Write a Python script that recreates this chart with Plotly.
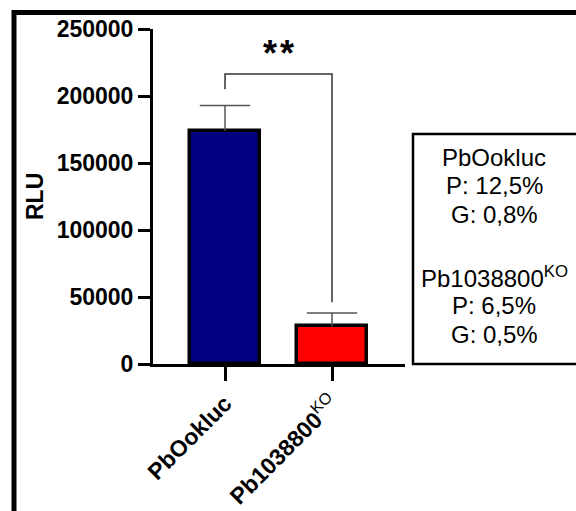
import plotly.graph_objects as go

# ---- data ----
categories = ["<b>PbOokluc</b>", "<b>Pb1038800</b><sup>KO</sup>"]
means = [174000, 28000]
errors_up = [19000, 10000]
bar_colors = ["#000080", "#FF0000"]
y_ticks = [0, 50000, 100000, 150000, 200000, 250000]
signif_text = "*\u200a*"
box_lines = ["PbOokluc", "P: 12,5%", "G: 0,8%", "", "Pb1038800<sup>KO</sup>", "P: 6,5%", "G: 0,5%"]

FONT = "Arial, 'Liberation Sans', Helvetica, sans-serif"
W, H = 576, 511
L, R, T, B = 153, 171, 29, 147
pw, ph = W - L - R, H - T - B

def px_x(p):  # pixel -> paper x
    return (p - L) / pw

def px_y(p):  # pixel -> paper y
    return (H - B - p) / ph

xpos = list(range(len(categories)))
tops = [m + e for m, e in zip(means, errors_up)]

fig = go.Figure()
fig.add_trace(go.Bar(
    x=xpos, y=means, width=0.654,
    marker=dict(color=bar_colors, line=dict(color="black", width=3.5)),
    error_y=dict(type="data", array=errors_up, arrayminus=[0, 0], symmetric=False,
                 color="#555555", thickness=1.5, width=0),
))
# error-bar caps
fig.add_trace(go.Scatter(
    x=xpos, y=tops, mode="markers", hoverinfo="skip",
    marker=dict(symbol="line-ew-open", size=36, color="#555555",
                line=dict(color="#555555", width=1.5)),
))

# significance bracket (data coords)
left_end = tops[0] + 12000
right_end = tops[1] + 8000
top = 216500
fig.add_shape(type="path", xref="x", yref="y",
              path=f"M {xpos[0]} {left_end} L {xpos[0]} {top} L {xpos[1]} {top} L {xpos[1]} {right_end}",
              line=dict(color="#333333", width=1.5))
fig.add_annotation(x=(xpos[0] + xpos[1]) / 2, y=top, yanchor="bottom", yshift=-2,
                   text=f"<b>{signif_text}</b>", showarrow=False,
                   font=dict(family=FONT, size=36, color="black"))

# y-axis title
fig.add_annotation(xref="paper", yref="paper", x=px_x(35), y=px_y(197),
                   xanchor="center", yanchor="middle",
                   text="<b>RLU</b>", textangle=-90, showarrow=False,
                   font=dict(family=FONT, size=23, color="black"))

# text box
fig.add_shape(type="rect", xref="paper", yref="paper",
              x0=px_x(413), x1=px_x(700), y0=px_y(364), y1=px_y(134),
              line=dict(color="black", width=2.5), fillcolor="rgba(0,0,0,0)")
for i, line in enumerate(box_lines):
    if not line:
        continue
    y_px = 157 + i * 28.5 + (6 if i >= 4 else 0)
    fig.add_annotation(xref="paper", yref="paper", x=px_x(494), y=px_y(y_px),
                       text=line, showarrow=False, xanchor="center", yanchor="middle",
                       font=dict(family=FONT, size=24, color="black"))

# outer frame
fig.add_shape(type="rect", xref="paper", yref="paper",
              x0=px_x(14), x1=px_x(800), y0=px_y(800), y1=px_y(12.5),
              line=dict(color="black", width=5), fillcolor="rgba(0,0,0,0)")

fig.update_layout(
    width=W, height=H,
    margin=dict(l=L, r=R, t=T, b=B, pad=0, autoexpand=False),
    paper_bgcolor="white", plot_bgcolor="white",
    showlegend=False, bargap=0,
    font=dict(family=FONT, color="black"),
)
fig.update_xaxes(
    range=[-0.673, 1.682], tickmode="array", tickvals=xpos, ticktext=categories,
    tickangle=-45, ticks="outside", ticklen=14, tickwidth=3, tickcolor="black",
    showline=True, linewidth=3, linecolor="black", showgrid=False, zeroline=False,
    tickfont=dict(family=FONT, size=23, color="black"), automargin=False,
)
fig.update_yaxes(
    range=[0, 250000], tickmode="array", tickvals=y_ticks,
    ticktext=[f"<b>{v}</b>" for v in y_ticks],
    ticks="outside", ticklen=12, tickwidth=3, tickcolor="black",
    showline=True, linewidth=3, linecolor="black", showgrid=False, zeroline=False,
    tickfont=dict(family=FONT, size=23, color="black"), automargin=False,
)

fig.write_html("out.html", config={"displayModeBar": False},
               post_script="document.body.style.margin='0';document.body.style.padding='0';document.body.style.overflow='hidden';")
